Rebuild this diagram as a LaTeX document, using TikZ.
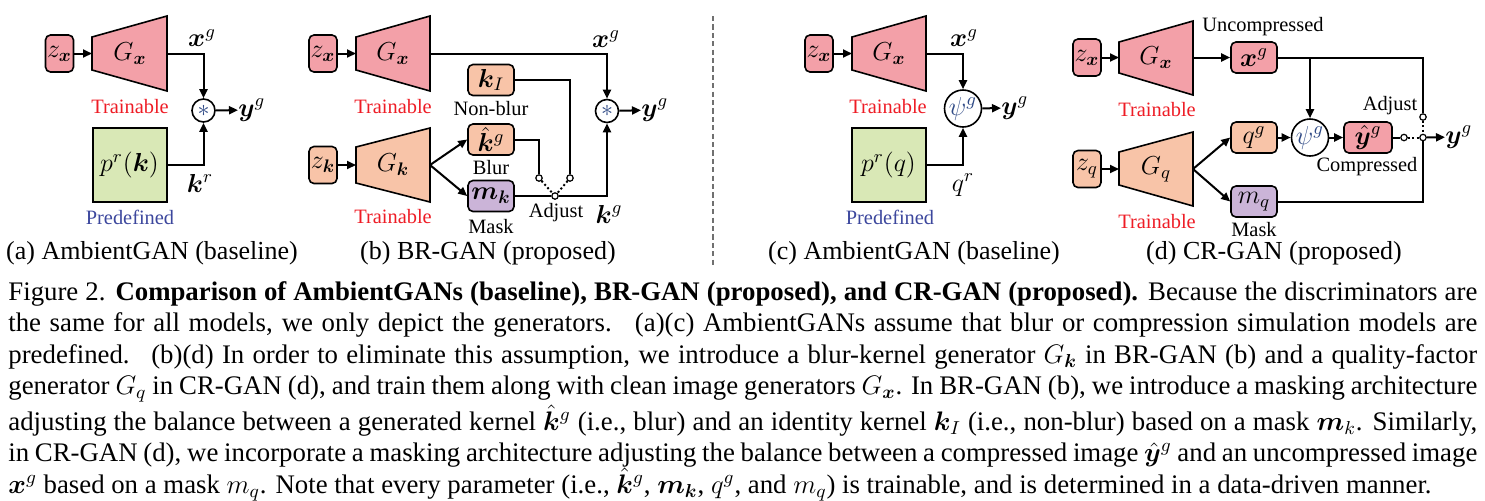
\RequirePackage{fix-cm}
\documentclass[tikz,border=0pt]{standalone}
\usepackage{amsmath}
\usepackage{bm}
\usepackage[no-math]{fontspec}
\setmainfont{Liberation Serif}
\usetikzlibrary{arrows.meta}
\definecolor{cpink}{HTML}{F3A0A8}
\definecolor{cpeach}{HTML}{F8C4A8}
\definecolor{cpurple}{HTML}{CBB4D8}
\definecolor{cgreen}{HTML}{D9E8B6}
\definecolor{cred}{HTML}{EE1C25}
\definecolor{cblue}{HTML}{3C479D}
\definecolor{cop}{HTML}{2F4A86}
\definecolor{csep}{HTML}{707070}
\begin{document}
\begin{tikzpicture}[x=0.5pt,y=-0.5pt,
  mfont/.style={font=\fontsize{13}{15}\selectfont},
  box/.style={draw, line width=0.8pt, rounded corners=2.5pt, inner sep=0pt,
    minimum width=23pt, minimum height=15.5pt, mfont},
  zbox/.style={box, minimum width=14pt, minimum height=18.5pt},
  prbox/.style={draw, line width=1pt, fill=cgreen, inner sep=0pt,
    minimum width=37pt, minimum height=37pt, mfont},
  gen/.style={draw, line width=0.8pt},
  glabel/.style={inner sep=0pt, mfont},
  mlabel/.style={inner sep=0pt, mfont},
  lbl/.style={font=\fontsize{10.2}{12}\selectfont, inner sep=0pt},
  train/.style={lbl, text=cred},
  predef/.style={lbl, text=cblue},
  subcap/.style={font=\fontsize{13}{15}\selectfont, inner sep=0pt},
  opc/.style={draw, circle, line width=0.8pt, fill=white, inner sep=0pt, minimum size=11.5pt, text=cop, font=\fontsize{12}{14}\selectfont},
  psic/.style={draw, circle, line width=0.8pt, fill=white, inner sep=0pt, minimum size=18.5pt, text=cop, font=\fontsize{13}{15}\selectfont},
  sw/.style={draw, circle, line width=0.6pt, fill=white, inner sep=0pt, minimum size=3.2pt},
  conn/.style={line width=1pt},
  arr/.style={conn, -{Triangle[length=4.5pt,width=4pt]}},
  dotl/.style={line width=1pt, dash pattern=on 1pt off 1.2pt},
]
\useasboundingbox (0,0) rectangle (1485,500);

% ================= Panel (a) =================
\node[zbox, fill=cpink] (za) at (59.5,53.5) {$z_{\bm{x}}$};
\draw[gen, fill=cpink] (92,37) -- (167,16) -- (167,91) -- (92,70) -- cycle;
\node[glabel] (Gxa) at (130,54) {$G_{\bm{x}}$};
\coordinate (GxaIn) at (92,53.5);
\coordinate (GxaOut) at (167,53.5);
\node[mlabel] (xga) at (202,38) {$\bm{x}^g$};
\node[opc] (opa) at (203.5,110.5) {$\ast$};
\node[mlabel, anchor=west] (yga) at (238,110) {$\bm{y}^g$};
\node[train] (tra) at (130,107) {Trainable};
\node[prbox] (pra) at (129.5,165) {$p^r(\bm{k})$};
\node[mlabel] (kra) at (200,183) {$\bm{k}^r$};
\node[predef] (prea) at (130,217) {Predefined};
\node[subcap] (capa) at (152,253) {(a) AmbientGAN (baseline)};
\draw[arr] (za) -- (GxaIn);
\draw[arr] (GxaOut) -| (opa);
\draw[arr] (pra) -| (opa);
\draw[arr] (opa) -- (yga);

% ================= Panel (b) =================
\node[zbox, fill=cpink] (zxb) at (323,53.5) {$z_{\bm{x}}$};
\draw[gen, fill=cpink] (356,37) -- (430,16) -- (430,91) -- (356,70) -- cycle;
\node[glabel] (Gxb) at (393,54) {$G_{\bm{x}}$};
\coordinate (GxbIn) at (356,53.5);
\coordinate (GxbOut) at (430,53.5);
\node[train] (trb1) at (393,107) {Trainable};
\node[mlabel] (xgb) at (606,39) {$\bm{x}^g$};
\node[opc] (opb) at (607,111) {$\ast$};
\node[mlabel, anchor=west] (ygb) at (641,110) {$\bm{y}^g$};

\node[box, fill=cpeach] (kI) at (491,80) {$\bm{k}_I$};
\node[lbl] (nonblur) at (491,109) {Non-blur};
\node[box, fill=cpeach] (kh) at (491,139.5) {$\hat{\bm{k}}^g$};
\node[lbl] (blur) at (491,168) {Blur};
\node[box, fill=cpurple] (mk) at (491,196) {$\bm{m}_{\bm{k}}$};
\node[lbl] (maskb) at (491,227) {Mask};

\node[sw] (sw1) at (539,178) {};
\node[sw] (sw2) at (570,178) {};
\node[sw] (sw3) at (555,196) {};
\node[lbl] (adjb) at (556,213) {Adjust};
\node[mlabel] (kgb) at (609,214) {$\bm{k}^g$};

\node[zbox, fill=cpeach] (zkb) at (323,165) {$z_{\bm{k}}$};
\draw[gen, fill=cpeach] (356,147) -- (430,128) -- (430,202) -- (356,183) -- cycle;
\node[glabel] (Gkb) at (393,165) {$G_{\bm{k}}$};
\coordinate (GkbIn) at (356,165);
\coordinate (GkbOut) at (430,165);
\node[train] (trb2) at (393,217) {Trainable};
\node[subcap] (capb) at (488,253) {(b) BR-GAN (proposed)};

\draw[arr] (zxb) -- (GxbIn);
\draw[arr] (GxbOut) -| (opb);
\draw[arr] (zkb) -- (GkbIn);
\draw[arr] (GkbOut) -- (kh.west);
\draw[arr] (GkbOut) -- (mk.west);
\draw[conn] (kI.east) -| (sw2);
\draw[conn] (kh.east) -| (sw1);
\draw[conn] (mk) -- (sw3);
\draw[arr] (sw3) -| (opb);
\draw[dotl] (sw1) -- (sw3);
\draw[dotl] (sw2) -- (sw3);
\draw[arr] (opb) -- (ygb);

% ================= separator =================
\coordinate (sepTop) at (713,16);
\coordinate (sepBot) at (713,265);
\draw[csep, line width=1pt, dash pattern=on 2.6pt off 1.6pt] (sepTop) -- (sepBot);

% ================= Panel (c) =================
\node[zbox, fill=cpink] (zxc) at (819,53.5) {$z_{\bm{x}}$};
\draw[gen, fill=cpink] (852,37) -- (926,16) -- (926,91) -- (852,70) -- cycle;
\node[glabel] (Gxc) at (889,54) {$G_{\bm{x}}$};
\coordinate (GxcIn) at (852,53.5);
\coordinate (GxcOut) at (926,53.5);
\node[mlabel] (xgc) at (964,38) {$\bm{x}^g$};
\node[psic] (psic) at (963,108.5) {$\psi^g$};
\node[mlabel, anchor=west] (ygc) at (1001,108) {$\bm{y}^g$};
\node[train] (trc) at (888,107) {Trainable};
\node[prbox] (prc) at (888.5,165) {$p^r(q)$};
\node[mlabel] (qrc) at (963,185) {$q^r$};
\node[predef] (prec) at (890,217) {Predefined};
\node[subcap] (capc) at (914,253) {(c) AmbientGAN (baseline)};
\draw[arr] (zxc) -- (GxcIn);
\draw[arr] (GxcOut) -| (psic);
\draw[arr] (prc) -| (psic);
\draw[arr] (psic) -- (ygc);

% ================= Panel (d) =================
\node[zbox, fill=cpink] (zxd) at (1087,57.5) {$z_{\bm{x}}$};
\draw[gen, fill=cpink] (1119,42) -- (1193,21) -- (1193,95) -- (1119,73) -- cycle;
\node[glabel] (Gxd) at (1156,58) {$G_{\bm{x}}$};
\coordinate (GxdIn) at (1119,57.5);
\coordinate (GxdOut) at (1193,57.5);
\node[lbl] (uncomp) at (1263,27) {Uncompressed};
\node[box, fill=cpink] (xgd) at (1254,57.5) {$\bm{x}^g$};
\node[train] (trd1) at (1157,110) {Trainable};

\node[zbox, fill=cpeach] (zqd) at (1087,169) {$z_q$};
\draw[gen, fill=cpeach] (1119,152) -- (1193,132) -- (1193,206) -- (1119,185) -- cycle;
\node[glabel] (Gqd) at (1156,169) {$G_q$};
\coordinate (GqdIn) at (1119,169);
\coordinate (GqdOut) at (1193,169);
\node[train] (trd2) at (1157,222) {Trainable};

\node[box, fill=cpeach] (qgd) at (1254,137.5) {$q^g$};
\node[psic] (psid) at (1310,137.5) {$\psi^g$};
\node[box, fill=cpink, minimum width=24pt] (yhd) at (1368,137.5) {$\hat{\bm{y}}^g$};
\node[lbl] (compd) at (1367,167) {Compressed};
\node[lbl] (adjd) at (1390,106) {Adjust};
\node[sw] (sd1) at (1404,137.5) {};
\node[sw] (sd2) at (1423,117) {};
\node[sw] (sd3) at (1423,137.5) {};
\node[mlabel, anchor=west] (ygd) at (1445,137) {$\bm{y}^g$};
\node[box, fill=cpurple] (mqd) at (1254,201.5) {$m_q$};
\node[lbl] (maskd) at (1254,230) {Mask};
\node[subcap] (capd) at (1274,253) {(d) CR-GAN (proposed)};

\draw[arr] (zxd) -- (GxdIn);
\draw[arr] (GxdOut) -- (xgd);
\draw[conn] (xgd.east) -| (sd2);
\draw[arr] (xgd.east -| psid) -- (psid);
\draw[arr] (zqd) -- (GqdIn);
\draw[arr] (GqdOut) -- (qgd.west);
\draw[arr] (GqdOut) -- (mqd.west);
\draw[arr] (qgd) -- (psid);
\draw[arr] (psid) -- (yhd);
\draw[conn] (yhd) -- (sd1);
\draw[dotl] (sd1) -- (sd3);
\draw[dotl] (sd2) -- (sd3);
\draw[conn] (mqd.east) -| (sd3);
\draw[arr] (sd3) -- (ygd);

% ================= Caption =================
\node[anchor=north west, inner sep=0pt, text width=734.5pt, align=justify,
  font=\fontsize{13.4}{15.75}\selectfont] (caption) at (8,281) {\lineskiplimit=-8pt\relax
Figure 2. \textbf{Comparison of AmbientGANs (baseline), BR-GAN (proposed), and CR-GAN (proposed).} Because the discriminators are\linebreak
the same for all models, we only depict the generators. \ (a)(c) AmbientGANs assume that blur or compression simulation models are\linebreak
predefined. \ (b)(d) In order to eliminate this assumption, we introduce a blur-kernel generator $G_{\bm{k}}$ in BR-GAN (b) and a quality-factor\linebreak
generator $G_q$ in CR-GAN (d), and train them along with clean image generators $G_{\bm{x}}$. In BR-GAN (b), we introduce a masking architecture\linebreak
adjusting the balance between a generated kernel $\hat{\bm{k}}^g$ (i.e., blur) and an identity kernel $\bm{k}_I$ (i.e., non-blur) based on a mask $\bm{m}_k$. Similarly,\linebreak
in CR-GAN (d), we incorporate a masking architecture adjusting the balance between a compressed image $\hat{\bm{y}}^g$ and an uncompressed image\linebreak
$\bm{x}^g$ based on a mask $m_q$. Note that every parameter (i.e., $\hat{\bm{k}}^g$, $\bm{m}_{\bm{k}}$, $q^g$, and $m_q$) is trainable, and is determined in a data-driven manner.};
\end{tikzpicture}
\end{document}
